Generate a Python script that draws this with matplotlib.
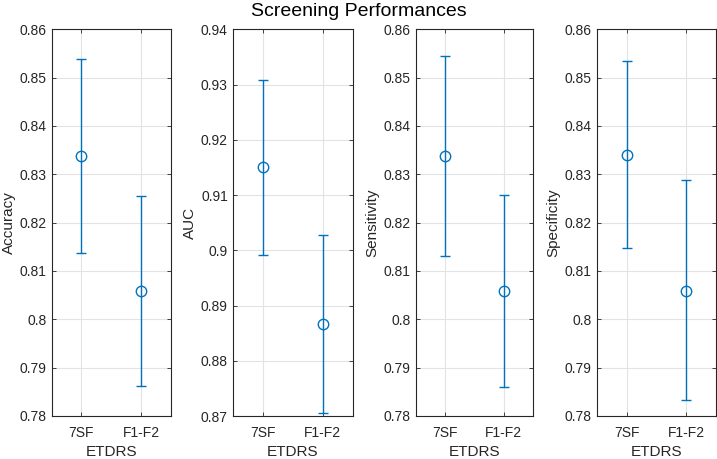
import matplotlib
matplotlib.use("Agg")
from matplotlib import pyplot as plt

# ETDRS protocols on the x axis
groups = ["7SF", "F1-F2"]

# mean value and lower / upper confidence bound for each metric
metrics = ["Accuracy", "AUC", "Sensitivity", "Specificity"]
accuracy = [0.8338, 0.8059]
accuracy_low = [0.8138, 0.7863]
accuracy_high = [0.8539, 0.8256]
auc = [0.9150, 0.8867]
auc_low = [0.8991, 0.8705]
auc_high = [0.9308, 0.9028]
sensitivity = [0.8338, 0.8059]
sensitivity_low = [0.8131, 0.7861]
sensitivity_high = [0.8544, 0.8258]
specificity = [0.8340, 0.8059]
specificity_low = [0.8147, 0.7833]
specificity_high = [0.8534, 0.8288]

ylims = [(0.78, 0.86), (0.87, 0.94), (0.78, 0.86), (0.78, 0.86)]
yticks = [
    [0.78, 0.79, 0.8, 0.81, 0.82, 0.83, 0.84, 0.85, 0.86],
    [0.87, 0.88, 0.89, 0.9, 0.91, 0.92, 0.93, 0.94],
    [0.78, 0.79, 0.8, 0.81, 0.82, 0.83, 0.84, 0.85, 0.86],
    [0.78, 0.79, 0.8, 0.81, 0.82, 0.83, 0.84, 0.85, 0.86],
]
ytick_labels = [
    ["0.78", "0.79", "0.8", "0.81", "0.82", "0.83", "0.84", "0.85", "0.86"],
    ["0.87", "0.88", "0.89", "0.9", "0.91", "0.92", "0.93", "0.94"],
    ["0.78", "0.79", "0.8", "0.81", "0.82", "0.83", "0.84", "0.85", "0.86"],
    ["0.78", "0.79", "0.8", "0.81", "0.82", "0.83", "0.84", "0.85", "0.86"],
]

series = [
    (accuracy, accuracy_low, accuracy_high),
    (auc, auc_low, auc_high),
    (sensitivity, sensitivity_low, sensitivity_high),
    (specificity, specificity_low, specificity_high),
]

plt.rcParams["font.family"] = ["Liberation Sans", "DejaVu Sans"]

W, H = 717, 459
fig = plt.figure(figsize=(W / 100, H / 100), dpi=100)

# axes boxes in pixels: left, right
boxes = [(51.7, 170.7), (232.7, 352.7), (415.7, 533.3), (596.7, 716.0)]
top, bottom = 29.3, 416.0

blue = "#0072BD"
dark = "#262626"
x = [1, 2]

for i, name in enumerate(metrics):
    l, r = boxes[i]
    ax = fig.add_axes([l / W, (H - bottom) / H, (r - l) / W, (bottom - top) / H])
    mean, low, high = series[i]
    err = [[m - lo for m, lo in zip(mean, low)], [hi - m for m, hi in zip(mean, high)]]
    ax.errorbar(x, mean, yerr=err, fmt="o", color=blue, mfc="none", mec=blue,
                ms=7.5, mew=1.0, elinewidth=1.0, capsize=3.5, capthick=1.0)
    ax.set_xlim(0.5, 2.5)
    ax.set_ylim(*ylims[i])
    ax.set_xticks(x)
    ax.set_xticklabels(groups)
    ax.set_yticks(yticks[i])
    ax.set_yticklabels(ytick_labels[i])
    ax.grid(True, color="#e3e3e3", linewidth=0.8)
    ax.set_axisbelow(True)
    ax.tick_params(direction="in", length=3, width=0.6, colors=dark,
                   labelsize=10, top=True, right=True)
    ax.tick_params(axis="x", pad=7)
    ax.tick_params(axis="y", pad=3.5)
    for s in ax.spines.values():
        s.set_color(dark)
        s.set_linewidth(0.8)
    ax.set_ylabel(name, fontsize=11, color=dark, labelpad=3)
    ax.set_xlabel("ETDRS", fontsize=11, color=dark, labelpad=4)

fig.text(0.5, 1 - 15.5 / H, "Screening Performances", ha="center", va="baseline",
         fontsize=14, color="black")

fig.savefig("out.png", dpi=100)
